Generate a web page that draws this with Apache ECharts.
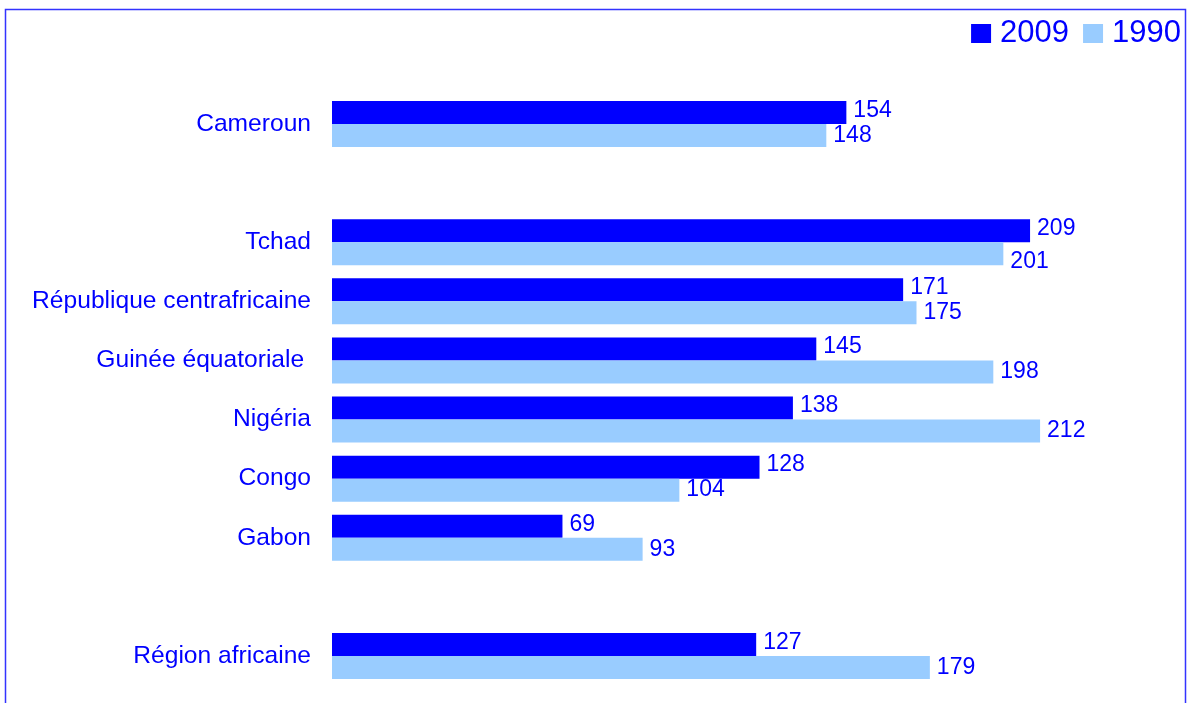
<!DOCTYPE html>
<html>
<head>
<meta charset="utf-8">
<script src="https://cdn.jsdelivr.net/npm/echarts@6/dist/echarts.min.js"></script>
<style>
  html, body { margin: 0; padding: 0; background: #fff; }
  #chart { width: 1187px; height: 703px; }
</style>
</head>
<body>
<div id="chart"></div>
<script>
// catégories (les chaînes vides servent d'espaces entre les groupes)
const categories = ['Cameroun', ' ', 'Tchad', 'République centrafricaine', 'Guinée équatoriale ', 'Nigéria', 'Congo', 'Gabon', '  ', 'Région africaine']
const values2009 = [154, null, 209, 171, 145, 138, 128, 69, null, 127]
const values1990 = [148, null, 201, 175, 198, 212, 104, 93, null, 179]
const seriesNames = ['2009', '1990']

const font = "'Liberation Sans', Arial, sans-serif"
const blue = '#0000ff'

const chart = echarts.init(document.getElementById('chart'))

const barLabel = (dy) => ({
  show: true,
  position: 'right',
  distance: 7,
  offset: [0, dy],
  color: blue,
  fontSize: 23,
  fontFamily: font
})

// l'étiquette de Tchad 1990 est décalée vers le bas dans l'original
const data1990 = values1990.map((v, i) =>
  i === 2 ? { value: v, label: { offset: [0, 8] } } : v
)

chart.setOption({
  animation: false,
  backgroundColor: '#fff',
  // cadre bleu autour du graphique
  graphic: [{
    type: 'rect',
    shape: { x: 5.5, y: 9.5, width: 1180, height: 720 },
    style: { fill: 'none', stroke: '#3333ff', lineWidth: 1.5 },
    silent: true
  }],
  legend: {
    data: seriesNames,
    right: 6,
    top: 18,
    padding: 0,
    itemWidth: 20,
    itemHeight: 19,
    itemGap: 14,
    icon: 'rect',
    textStyle: { color: blue, fontSize: 31, fontFamily: font, padding: [0, 0, 0, 4] }
  },
  grid: {
    left: 332,
    right: 20,
    top: 94.5,
    bottom: 17.5
  },
  xAxis: {
    type: 'value',
    min: 0,
    max: 250,
    show: false
  },
  yAxis: {
    type: 'category',
    inverse: true,
    data: categories,
    axisLine: { show: false },
    axisTick: { show: false },
    splitLine: { show: false },
    axisLabel: {
      color: blue,
      fontSize: 24.6,
      fontFamily: font,
      margin: 21
    }
  },
  series: [
    {
      name: seriesNames[0],
      type: 'bar',
      data: values2009,
      barWidth: 23,
      barGap: '0%',
      itemStyle: { color: '#0000ff' },
      label: barLabel(-2)
    },
    {
      name: seriesNames[1],
      type: 'bar',
      data: data1990,
      barWidth: 23,
      barGap: '0%',
      itemStyle: { color: '#99ccff' },
      label: barLabel(0)
    }
  ]
})
</script>
</body>
</html>
